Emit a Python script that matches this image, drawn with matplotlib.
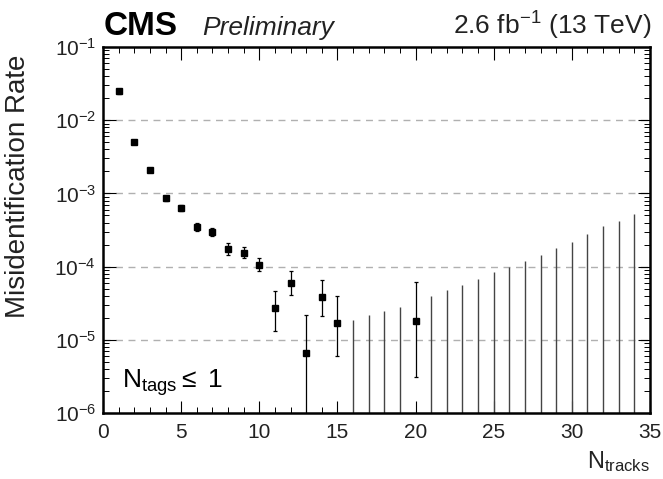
import matplotlib
matplotlib.use("Agg")
import matplotlib.pyplot as plt
import numpy as np
from matplotlib.ticker import LogLocator, MultipleLocator, NullFormatter

plt.rcParams["font.family"] = ["Liberation Sans", "DejaVu Sans"]
plt.rcParams["mathtext.fontset"] = "custom"
plt.rcParams["mathtext.rm"] = "Liberation Sans"
plt.rcParams["mathtext.it"] = "Liberation Sans:italic"

# measured bins
n_tracks = [1, 2, 3, 4, 5, 6, 7, 8, 9, 10, 11, 12, 13, 14, 15, 20]
rate = [2.5e-2, 5.0e-3, 2.1e-3, 8.6e-4, 6.3e-4, 3.5e-4, 3.0e-4, 1.75e-4, 1.55e-4, 1.06e-4,
        2.7e-5, 5.9e-5, 6.7e-6, 3.8e-5, 1.7e-5, 1.8e-5]
rate_hi = [2.7e-2, 5.3e-3, 2.25e-3, 9.3e-4, 6.9e-4, 3.9e-4, 3.4e-4, 2.1e-4, 1.85e-4, 1.3e-4,
           4.6e-5, 8.6e-5, 2.2e-5, 6.6e-5, 4.0e-5, 6.1e-5]
rate_lo = [2.3e-2, 4.7e-3, 1.95e-3, 8.0e-4, 5.8e-4, 3.1e-4, 2.65e-4, 1.45e-4, 1.3e-4, 0.87e-4,
           1.3e-5, 4.1e-5, 1e-7, 2.1e-5, 6.0e-6, 3.1e-6]

# empty bins: only an upper error
empty_tracks = [16, 17, 18, 19, 21, 22, 23, 24, 25, 26, 27, 28, 29, 30, 31, 32, 33, 34]
empty_hi = [1.87e-5, 2.2e-5, 2.45e-5, 2.85e-5, 4.0e-5, 4.8e-5, 5.6e-5, 6.8e-5, 8.5e-5, 1.0e-4,
            1.19e-4, 1.45e-4, 1.8e-4, 2.14e-4, 2.75e-4, 3.55e-4, 4.2e-4, 5.25e-4]

fig = plt.figure(figsize=(6.63, 4.79), dpi=100)
ax = fig.add_axes([0.1554, 0.1378, 0.825, 0.7640])

x = np.array(n_tracks)
y = np.array(rate)
yerr = np.vstack([y - np.array(rate_lo), np.array(rate_hi) - y])
ax.errorbar(x, y, yerr=yerr, fmt="s", color="black", ms=4, lw=0.9,
            capsize=1.5, capthick=0.9, zorder=3)
ax.vlines(empty_tracks, 1e-7, empty_hi, color="#444444", lw=1.0, zorder=2)

ax.set_yscale("log")
ax.set_xlim(0, 35)
ax.set_ylim(1e-6, 1e-1)

for lvl in [1e-2, 1e-3, 1e-4, 1e-5]:
    ax.axhline(lvl, color="#b0b0b0", lw=1.0, ls=(0, (5, 4)), zorder=1)

ax.xaxis.set_major_locator(MultipleLocator(5))
ax.xaxis.set_minor_locator(MultipleLocator(1))
ax.yaxis.set_major_locator(LogLocator(base=10, numticks=10))
ax.yaxis.set_minor_locator(LogLocator(base=10, subs=np.arange(2, 10), numticks=20))
ax.yaxis.set_minor_formatter(NullFormatter())
ax.tick_params(which="both", direction="in", top=True, right=True, labelsize=15,
               labelcolor="#222222")
ax.tick_params(which="major", length=9, width=0.8)
ax.tick_params(which="minor", length=4.5, width=0.7)
ax.tick_params(axis="x", pad=7)
ax.tick_params(axis="y", pad=5)
for sp in ax.spines.values():
    sp.set_linewidth(1.8)

ax.set_ylabel("Misidentification Rate", fontsize=20, color="#222222")
ax.yaxis.set_label_coords(-0.131, 0.62)
fig.text(0.980, 0.023, r"N$_{\mathrm{tracks}}$", ha="right", va="baseline", fontsize=17,
         color="#222222")

fig.text(0.157, 0.927, "CMS", fontsize=24, fontweight="bold", ha="left", va="baseline")
fig.text(0.305, 0.927, "Preliminary", fontsize=19, style="italic", ha="left", va="baseline",
         color="#222222")
fig.text(0.982, 0.927, r"2.6 fb$^{-1}$ (13 TeV)", fontsize=19, ha="right", va="baseline",
         color="#222222")

ax.text(0.035, 0.068, r"N$_{\mathrm{tags}}$$\leq$ 1", transform=ax.transAxes, fontsize=19,
        ha="left", va="baseline")

fig.savefig("out.png", dpi=100)
